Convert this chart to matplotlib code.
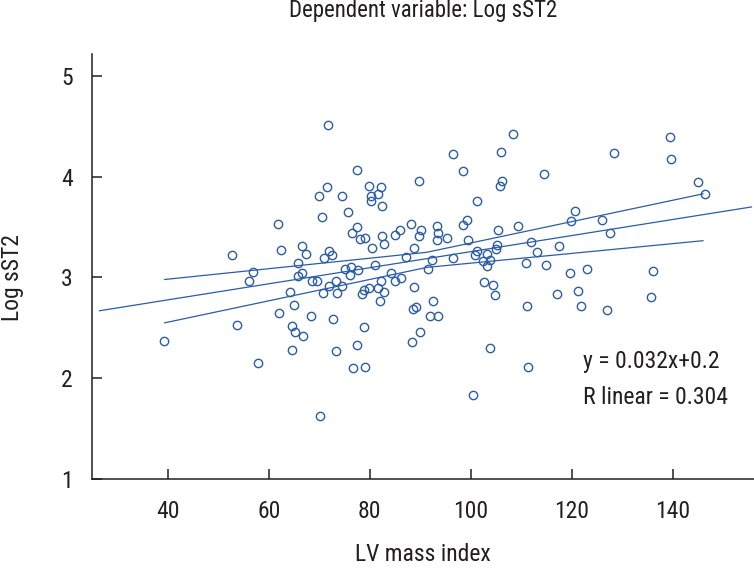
import numpy as np
import matplotlib
matplotlib.use("Agg")
import matplotlib.pyplot as plt
from matplotlib import font_manager

# LV mass index vs Log sST2
lv_mass = [39.2, 52.7, 53.7, 56.0, 56.8, 57.9, 61.8, 62.4, 62.0, 64.2,
           64.6, 65.2, 64.6, 65.1, 65.7, 65.7, 66.5, 66.6, 67.3, 66.7,
           68.4, 68.5, 69.6, 70.2, 70.0, 70.6, 71.5, 71.7, 70.7, 71.0,
           71.9, 72.5, 71.9, 73.3, 72.8, 73.4, 73.6, 74.5, 74.5, 75.6,
           75.1, 76.2, 76.0, 76.5, 77.4, 77.5, 77.6, 77.5, 76.7, 78.1,
           78.4, 79.1, 79.8, 82.2, 80.2, 81.6, 80.3, 82.4, 89.7, 96.4,
           98.4, 106.0, 108.3, 106.2, 105.7, 101.2, 88.1, 85.9, 90.2, 93.4,
           98.4, 99.2, 105.5, 109.4, 82.4, 82.8, 85.0, 89.8, 93.5, 93.3,
           95.3, 99.4, 111.9, 80.4, 88.8, 87.2, 92.4, 96.4, 101.2, 100.9,
           103.2, 105.0, 105.2, 113.2, 110.9, 102.4, 103.9, 103.3, 81.0, 91.5,
           84.2, 86.1, 85.1, 82.2, 79.9, 81.7, 82.9, 78.8, 88.8, 82.0,
           102.6, 104.5, 104.9, 92.6, 89.2, 88.5, 91.9, 93.5, 111.2, 78.8,
           90.0, 88.3, 103.8, 79.1, 111.3, 100.5, 114.5, 128.3, 139.4, 139.7,
           145.0, 146.3, 120.6, 119.9, 125.9, 127.6, 117.4, 114.9, 119.7, 123.0,
           136.0, 117.0, 121.2, 121.8, 126.9, 135.8]
log_sst2 = [2.37, 3.22, 2.53, 2.97, 3.05, 2.15, 3.53, 3.27, 2.65, 2.86,
            2.52, 2.46, 2.28, 2.73, 3.14, 3.01, 3.31, 3.04, 3.23, 2.42,
            2.62, 2.97, 2.97, 1.63, 3.81, 3.60, 3.90, 4.51, 2.85, 3.19,
            3.26, 3.22, 2.92, 2.97, 2.59, 2.27, 2.85, 2.92, 3.81, 3.65,
            3.08, 3.10, 3.02, 3.44, 4.07, 3.50, 3.07, 2.33, 2.10, 3.38,
            2.84, 3.39, 3.91, 3.90, 3.81, 3.83, 3.76, 3.71, 3.96, 4.23,
            4.06, 4.25, 4.42, 3.96, 3.91, 3.76, 3.53, 3.47, 3.47, 3.51,
            3.52, 3.57, 3.47, 3.51, 3.41, 3.33, 3.42, 3.41, 3.44, 3.37,
            3.39, 3.37, 3.35, 3.29, 3.29, 3.20, 3.17, 3.19, 3.26, 3.22,
            3.23, 3.28, 3.32, 3.25, 3.14, 3.16, 3.17, 3.11, 3.12, 3.08,
            3.04, 2.99, 2.97, 2.97, 2.90, 2.90, 2.86, 2.88, 2.91, 2.77,
            2.96, 2.93, 2.83, 2.77, 2.71, 2.69, 2.62, 2.62, 2.72, 2.51,
            2.46, 2.36, 2.30, 2.11, 2.11, 1.83, 4.03, 4.24, 4.39, 4.18,
            3.95, 3.83, 3.66, 3.56, 3.57, 3.44, 3.31, 3.12, 3.04, 3.08,
            3.06, 2.84, 2.87, 2.72, 2.68, 2.81]

# fit line and confidence band of the mean
fit_x = [26.5, 155.6]
fit_y = [2.67, 3.70]
ci_x = [39.4, 91.3, 146.0]
ci_upper = [2.98, 3.25, 3.83]
ci_lower = [2.55, 3.10, 3.365]

x_ticks = [40, 60, 80, 100, 120, 140]
y_ticks = [1, 2, 3, 4, 5]

# pick a condensed font if there is one
names = set(f.name for f in font_manager.fontManager.ttflist)
font = "DejaVu Sans"
for cand in ["Liberation Sans Narrow", "Roboto Condensed", "Open Sans Condensed", "DejaVu Sans Condensed"]:
    if cand in names:
        font = cand
        break
plt.rcParams["font.family"] = [font, "DejaVu Sans"]

blue = "#2b5ca6"
dark = "#231f20"
W, H = 754, 568

fig = plt.figure(figsize=(7.54, 5.68), dpi=100)
ax = fig.add_axes([92 / W, 89 / H, 662 / W, 425 / H])

ax.plot(lv_mass, log_sst2, "o", ms=6.0, mfc="none", mec=blue, mew=1.0, clip_on=False)
ax.plot(fit_x, fit_y, color=blue, lw=0.9)
ax.plot(ci_x, ci_upper, color=blue, lw=0.9)
ax.plot(ci_x, ci_lower, color=blue, lw=0.9)

ax.set_xlim(25, 156.1)
ax.set_ylim(1, 5.218)
ax.set_xticks(x_ticks)
ax.set_yticks(y_ticks)
ax.spines["top"].set_visible(False)
ax.spines["right"].set_visible(False)
for s in ["left", "bottom"]:
    ax.spines[s].set_color(dark)
    ax.spines[s].set_linewidth(1.1)
ax.tick_params(direction="in", length=7, width=1.1, color=dark,
               labelsize=17, labelcolor=dark)
ax.tick_params(axis="x", pad=15)
ax.tick_params(axis="y", pad=14)

fig.text(423 / W, 1 - 11 / H, "Dependent variable: Log sST2", ha="center", va="center",
         fontsize=16.5, color=dark)
fig.text(423 / W, 7 / H, "LV mass index", ha="center", va="baseline", fontsize=17, color=dark)
fig.text(12 / W, 1 - 278 / H, "Log sST2", rotation=90, ha="center", va="center",
         fontsize=17, color=dark)

fig.text(583 / W, 1 - 361.7 / H, "y = 0.032x+0.2", fontsize=17, color=dark, va="center")
fig.text(583 / W, 1 - 398 / H, "R linear = 0.304", fontsize=17, color=dark, va="center")

plt.savefig("out.png", dpi=100)
